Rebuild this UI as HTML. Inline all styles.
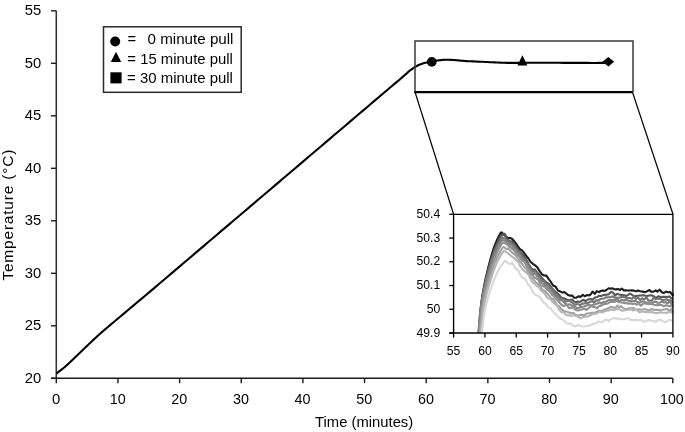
<!DOCTYPE html>
<html><head><meta charset="utf-8"><style>
html,body{margin:0;padding:0;background:#fff;overflow:hidden;}
svg{display:block;will-change:transform;}
.t{font-family:"Liberation Sans",sans-serif;font-size:14.8px;fill:#000;}
.s{font-family:"Liberation Sans",sans-serif;font-size:12.2px;fill:#000;}
</style></head><body>
<svg width="685" height="432" viewBox="0 0 685 432">
<rect width="685" height="432" fill="#fff"/>
<line x1="56.3" y1="10.8" x2="56.3" y2="378.3" stroke="#303030" stroke-width="1.55"/>
<line x1="51" y1="378.3" x2="672.8" y2="378.3" stroke="#1a1a1a" stroke-width="1.4"/>
<line x1="51" y1="378.3" x2="56.3" y2="378.3" stroke="#1a1a1a" stroke-width="1.4"/>
<text x="41.3" y="382.5" text-anchor="end" class="t">20</text>
<line x1="51" y1="325.8" x2="56.3" y2="325.8" stroke="#1a1a1a" stroke-width="1.4"/>
<text x="41.3" y="330" text-anchor="end" class="t">25</text>
<line x1="51" y1="273.3" x2="56.3" y2="273.3" stroke="#1a1a1a" stroke-width="1.4"/>
<text x="41.3" y="277.5" text-anchor="end" class="t">30</text>
<line x1="51" y1="220.8" x2="56.3" y2="220.8" stroke="#1a1a1a" stroke-width="1.4"/>
<text x="41.3" y="225" text-anchor="end" class="t">35</text>
<line x1="51" y1="168.3" x2="56.3" y2="168.3" stroke="#1a1a1a" stroke-width="1.4"/>
<text x="41.3" y="172.5" text-anchor="end" class="t">40</text>
<line x1="51" y1="115.8" x2="56.3" y2="115.8" stroke="#1a1a1a" stroke-width="1.4"/>
<text x="41.3" y="120" text-anchor="end" class="t">45</text>
<line x1="51" y1="63.3" x2="56.3" y2="63.3" stroke="#1a1a1a" stroke-width="1.4"/>
<text x="41.3" y="67.5" text-anchor="end" class="t">50</text>
<line x1="51" y1="10.8" x2="56.3" y2="10.8" stroke="#1a1a1a" stroke-width="1.4"/>
<text x="41.3" y="15" text-anchor="end" class="t">55</text>
<line x1="56.3" y1="378.3" x2="56.3" y2="383.2" stroke="#1a1a1a" stroke-width="1.4"/>
<text x="56" y="403.5" text-anchor="middle" class="t">0</text>
<line x1="117.95" y1="378.3" x2="117.95" y2="383.2" stroke="#1a1a1a" stroke-width="1.4"/>
<text x="117.65" y="403.5" text-anchor="middle" class="t" textLength="16" lengthAdjust="spacingAndGlyphs">10</text>
<line x1="179.6" y1="378.3" x2="179.6" y2="383.2" stroke="#1a1a1a" stroke-width="1.4"/>
<text x="179.3" y="403.5" text-anchor="middle" class="t" textLength="16" lengthAdjust="spacingAndGlyphs">20</text>
<line x1="241.25" y1="378.3" x2="241.25" y2="383.2" stroke="#1a1a1a" stroke-width="1.4"/>
<text x="240.95" y="403.5" text-anchor="middle" class="t" textLength="16" lengthAdjust="spacingAndGlyphs">30</text>
<line x1="302.9" y1="378.3" x2="302.9" y2="383.2" stroke="#1a1a1a" stroke-width="1.4"/>
<text x="302.6" y="403.5" text-anchor="middle" class="t" textLength="16" lengthAdjust="spacingAndGlyphs">40</text>
<line x1="364.55" y1="378.3" x2="364.55" y2="383.2" stroke="#1a1a1a" stroke-width="1.4"/>
<text x="364.25" y="403.5" text-anchor="middle" class="t" textLength="16" lengthAdjust="spacingAndGlyphs">50</text>
<line x1="426.2" y1="378.3" x2="426.2" y2="383.2" stroke="#1a1a1a" stroke-width="1.4"/>
<text x="425.9" y="403.5" text-anchor="middle" class="t" textLength="16" lengthAdjust="spacingAndGlyphs">60</text>
<line x1="487.85" y1="378.3" x2="487.85" y2="383.2" stroke="#1a1a1a" stroke-width="1.4"/>
<text x="487.55" y="403.5" text-anchor="middle" class="t" textLength="16" lengthAdjust="spacingAndGlyphs">70</text>
<line x1="549.5" y1="378.3" x2="549.5" y2="383.2" stroke="#1a1a1a" stroke-width="1.4"/>
<text x="549.2" y="403.5" text-anchor="middle" class="t" textLength="16" lengthAdjust="spacingAndGlyphs">80</text>
<line x1="611.15" y1="378.3" x2="611.15" y2="383.2" stroke="#1a1a1a" stroke-width="1.4"/>
<text x="610.85" y="403.5" text-anchor="middle" class="t" textLength="16" lengthAdjust="spacingAndGlyphs">90</text>
<line x1="672.8" y1="378.3" x2="672.8" y2="383.2" stroke="#1a1a1a" stroke-width="1.4"/>
<text x="671.9" y="403.5" text-anchor="middle" class="t" textLength="23.6" lengthAdjust="spacingAndGlyphs">100</text>
<text x="315.1" y="426.8" textLength="98.1" lengthAdjust="spacingAndGlyphs" class="t">Time (minutes)</text>
<text transform="translate(13.4 280.6) rotate(-90)" x="0" y="0" textLength="131" lengthAdjust="spacing" class="t" style="font-size:15.5px">Temperature (°C)</text>
<rect x="103.5" y="26.8" width="137.7" height="65.5" fill="#fff" stroke="#2a2a2a" stroke-width="1.5"/>
<circle cx="115.2" cy="41.5" r="5" fill="#000"/>
<path d="M116 51.8 L121.2 62 L110.8 62 Z" fill="#000"/>
<rect x="110.4" y="72.3" width="11.2" height="11.1" fill="#000"/>
<text x="127.5" y="43.9" class="t">=</text><text x="147.5" y="43.9" textLength="86" lengthAdjust="spacingAndGlyphs" class="t">0 minute pull</text>
<text x="127.3" y="63.6" textLength="105.6" lengthAdjust="spacingAndGlyphs" class="t">= 15 minute pull</text>
<text x="127.1" y="83.1" textLength="105.8" lengthAdjust="spacingAndGlyphs" class="t">= 30 minute pull</text>
<path d="M56.5 373.5 L56.72 373.33 L57.02 373.1 L57.38 372.82 L57.76 372.52 L58.14 372.22 L58.5 371.94 L58.83 371.68 L59.17 371.42 L59.5 371.16 L59.83 370.9 L60.17 370.64 L60.5 370.38 L60.83 370.12 L61.17 369.86 L61.5 369.6 L61.83 369.34 L62.17 369.08 L62.5 368.82 L62.83 368.55 L63.17 368.28 L63.5 368.01 L63.83 367.74 L64.17 367.47 L64.5 367.19 L64.83 366.91 L65.17 366.63 L65.5 366.34 L65.83 366.05 L66.17 365.76 L66.5 365.47 L66.83 365.18 L67.17 364.88 L67.5 364.58 L67.83 364.28 L68.17 363.97 L68.5 363.66 L68.83 363.35 L69.17 363.04 L69.5 362.72 L69.83 362.41 L70.17 362.09 L70.5 361.77 L70.83 361.45 L71.17 361.13 L71.5 360.81 L71.83 360.49 L72.17 360.17 L72.5 359.85 L72.83 359.53 L73.17 359.21 L73.5 358.89 L73.83 358.57 L74.17 358.25 L74.5 357.93 L74.83 357.61 L75.17 357.29 L75.5 356.97 L75.83 356.65 L76.17 356.33 L76.5 356.01 L76.83 355.69 L77.17 355.37 L77.5 355.05 L77.83 354.73 L78.17 354.41 L78.5 354.09 L78.83 353.77 L79.17 353.45 L79.5 353.13 L79.83 352.81 L80.17 352.49 L80.5 352.17 L80.83 351.85 L81.17 351.53 L81.5 351.21 L81.83 350.89 L82.17 350.57 L82.5 350.25 L82.83 349.93 L83.17 349.61 L83.5 349.29 L83.83 348.97 L84.17 348.65 L84.5 348.33 L84.83 348.01 L85.17 347.69 L85.5 347.37 L85.83 347.05 L86.17 346.73 L86.5 346.41 L86.83 346.09 L87.17 345.77 L87.5 345.45 L87.83 345.13 L88.17 344.81 L88.5 344.49 L88.83 344.17 L89.17 343.85 L89.5 343.53 L89.83 343.21 L90.17 342.89 L90.5 342.58 L90.83 342.26 L91.17 341.94 L91.5 341.63 L91.83 341.31 L92.17 341 L92.5 340.69 L92.83 340.37 L93.17 340.06 L93.5 339.75 L93.83 339.44 L94.17 339.13 L94.5 338.82 L94.83 338.51 L95.17 338.21 L95.5 337.9 L95.83 337.59 L96.17 337.29 L96.5 336.98 L96.83 336.68 L97.17 336.37 L97.5 336.07 L97.83 335.77 L98.17 335.47 L98.5 335.17 L98.83 334.87 L99.17 334.57 L99.5 334.27 L99.83 333.97 L100.17 333.67 L100.5 333.37 L100.83 333.08 L101.17 332.78 L101.5 332.49 L101.83 332.19 L102.17 331.9 L102.5 331.61 L102.83 331.32 L103.17 331.02 L103.5 330.73 L103.83 330.44 L104.17 330.15 L104.5 329.87 L104.83 329.58 L105.17 329.29 L105.5 329 L105.83 328.72 L106.17 328.43 L106.5 328.15 L106.67 328 L106.63 328.03 L106.59 328.06 L106.76 327.91 L107.33 327.43 L108.5 326.45 L110.31 324.92 L112.61 322.99 L115.31 320.72 L118.33 318.19 L121.59 315.45 L125 312.59 L128.67 309.51 L132.7 306.13 L136.97 302.56 L141.35 298.89 L145.73 295.21 L150 291.62 L154.17 288.09 L158.33 284.55 L162.5 281.01 L166.67 277.46 L170.83 273.91 L175 270.37 L179.17 266.83 L183.33 263.29 L187.5 259.75 L191.67 256.21 L195.83 252.67 L200 249.13 L204.17 245.58 L208.33 242.04 L212.5 238.5 L216.67 234.96 L220.83 231.42 L225 227.88 L229.17 224.34 L233.33 220.8 L237.5 217.26 L241.67 213.72 L245.83 210.18 L250 206.64 L254.17 203.09 L258.33 199.55 L262.5 196.01 L266.67 192.47 L270.83 188.93 L275 185.39 L279.17 181.85 L283.33 178.31 L287.5 174.77 L291.67 171.23 L295.83 167.69 L300 164.15 L304.17 160.6 L308.33 157.06 L312.5 153.52 L316.67 149.98 L320.83 146.44 L325 142.9 L329.17 139.36 L333.33 135.82 L337.5 132.28 L341.67 128.74 L345.83 125.2 L350 121.66 L354.26 118.04 L358.63 114.32 L363 110.61 L367.26 106.99 L371.3 103.56 L375 100.41 L378.41 97.52 L381.61 94.79 L384.59 92.26 L387.33 89.93 L389.8 87.82 L392 85.96 L393.84 84.41 L395.34 83.16 L396.57 82.14 L397.63 81.25 L398.61 80.44 L399.6 79.6 L400.55 78.79 L401.39 78.07 L402.14 77.41 L402.85 76.78 L403.56 76.16 L404.3 75.5 L405.07 74.81 L405.84 74.11 L406.61 73.41 L407.37 72.71 L408.13 72.04 L408.9 71.4 L409.67 70.78 L410.43 70.19 L411.2 69.61 L411.97 69.06 L412.73 68.52 L413.5 68 L414.27 67.5 L415.03 67.01 L415.79 66.55 L416.56 66.11 L417.33 65.69 L418.1 65.3 L418.88 64.94 L419.66 64.61 L420.45 64.31 L421.24 64.02 L422.02 63.75 L422.8 63.5 L423.57 63.26 L424.33 63.04 L425.09 62.84 L425.86 62.66 L426.62 62.48 L427.4 62.3 L428.18 62.13 L428.97 61.98 L429.77 61.83 L430.57 61.69 L431.38 61.55 L432.2 61.4 L433.01 61.25 L433.8 61.09 L434.59 60.94 L435.43 60.79 L436.32 60.64 L437.3 60.5 L438.39 60.36 L439.57 60.22 L440.81 60.09 L442.09 59.97 L443.36 59.87 L444.6 59.8 L445.82 59.76 L447.03 59.76 L448.25 59.77 L449.47 59.8 L450.68 59.85 L451.9 59.9 L453.12 59.97 L454.33 60.06 L455.55 60.17 L456.77 60.28 L457.98 60.39 L459.2 60.5 L460.34 60.6 L461.4 60.7 L462.46 60.8 L463.61 60.9 L464.92 61 L466.5 61.1 L468.38 61.2 L470.5 61.3 L472.79 61.39 L475.19 61.49 L477.61 61.59 L480 61.7 L482.42 61.81 L484.94 61.94 L487.49 62.06 L490 62.19 L492.4 62.3 L494.6 62.4 L496.56 62.49 L498.34 62.57 L499.99 62.64 L501.61 62.7 L503.25 62.75 L505 62.8 L506.83 62.84 L508.68 62.86 L510.56 62.88 L512.48 62.89 L514.45 62.9 L516.5 62.9 L518.5 62.89 L520.43 62.88 L522.41 62.86 L524.57 62.83 L527.06 62.81 L530 62.8 L533.5 62.79 L537.48 62.79 L541.78 62.79 L546.24 62.79 L550.7 62.79 L555 62.8 L559.2 62.81 L563.44 62.83 L567.69 62.85 L571.89 62.87 L576.01 62.89 L580 62.9 L584.02 62.91 L588.14 62.92 L592.18 62.93 L595.95 62.93 L599.28 62.92 L602 62.9 L604.02 62.85 L605.47 62.78 L606.48 62.7 L607.18 62.62 L607.71 62.55 L608.2 62.5" fill="none" stroke="#000" stroke-width="2.1" stroke-linejoin="round"/>
<path d="M415 92 L415 41 L633 41 L633 92" fill="none" stroke="#3a3a3a" stroke-width="1.5"/>
<line x1="414.3" y1="92.1" x2="632.8" y2="92.1" stroke="#000" stroke-width="2.1"/>
<circle cx="431.75" cy="61.85" r="4.9" fill="#000"/>
<path d="M522.4 55.3 L527.4 65.6 L517.4 65.6 Z" fill="#000"/>
<path d="M608.3 57 L614.2 61.7 L608.3 66.4 L602.4 61.7 Z" fill="#000"/>
<line x1="415" y1="92" x2="453.6" y2="214.3" stroke="#000" stroke-width="1.2"/>
<line x1="632.5" y1="92.3" x2="673" y2="214.3" stroke="#000" stroke-width="1.2"/>
<rect x="453.6" y="214.3" width="219.3" height="118.7" fill="#fff"/>
<path d="M479.2 333 L479.46 328.6 L479.82 322.28 L480.28 315.31 L480.8 309 L481.39 303.64 L482.04 298.57 L482.78 293.61 L483.63 288.6 L484.62 283.46 L485.72 278.29 L486.88 273.2 L488.07 268.3 L489.29 263.48 L490.57 258.73 L491.83 254.29 L493.02 250.4 L494.1 247.19 L495.12 244.51 L496.09 242.17 L497.03 240 L497.98 237.9 L498.92 235.99 L499.79 234.38 L500.5 233.2 L500.97 232.58 L501.26 232.41 L501.5 232.49 L501.8 232.6 L504.06 234.72 L505.97 236.5 L507.82 237.93 L510.13 238.1 L511.91 238.7 L514.43 241.52 L516.11 243.56 L518.2 247.02 L520.23 249.4 L522.06 250.46 L523.96 252.63 L526.4 256.28 L528.3 258.24 L530.47 261.75 L532.87 263.8 L535.14 265.38 L537.54 267.49 L539.65 271.22 L541.82 274.13 L543.81 275.35 L546.37 275.59 L548.71 279.06 L550.7 281.69 L552.97 285.41 L555.43 286.42 L557.93 290.52 L559.98 291.33 L562.55 292.59 L564.29 291.98 L565.89 293.49 L567.64 294.67 L570.14 295.77 L572.08 295.41 L573.96 297.59 L576.42 297.7 L578.66 296.25 L580.42 296.92 L582.93 294.86 L584.71 296.27 L587.19 295.06 L588.81 295.53 L590.55 294.53 L592.55 291.59 L594.75 293.78 L596.8 291.11 L598.98 292.18 L600.77 291 L602.6 290.41 L604.24 291.03 L606.06 290.21 L608.63 288.23 L610.48 288.76 L612.19 288.22 L614.23 289.22 L615.88 289.38 L617.95 289.08 L620.06 289.94 L621.73 288.51 L623.85 290.36 L625.77 290.21 L627.41 290.45 L630 290.44 L631.71 290.36 L633.92 290.62 L636.03 291.38 L637.95 290.45 L640.33 291.27 L642.78 291.65 L645.33 292.17 L647.25 291.14 L649.45 289.97 L651.23 291.74 L653.59 291.62 L655.61 290.37 L657.32 291.63 L659.64 289.72 L662.2 292.43 L663.96 293 L665.98 291.59 L667.94 292.22 L670.34 292.12 L672.72 295.47 L673 293.52" fill="none" stroke="#1c1c1c" stroke-width="2.1" stroke-linejoin="round"/>
<path d="M478.6 333 L478.91 328.72 L479.35 322.55 L479.88 315.77 L480.47 309.62 L481.12 304.4 L481.83 299.46 L482.63 294.63 L483.54 289.75 L484.58 284.74 L485.74 279.71 L486.96 274.75 L488.2 269.98 L489.48 265.28 L490.81 260.65 L492.13 256.33 L493.36 252.54 L494.47 249.41 L495.52 246.8 L496.52 244.52 L497.49 242.41 L498.46 240.36 L499.42 238.5 L500.29 236.93 L501 235.78 L501.47 235.18 L501.76 235.02 L502 235.09 L502.3 235.2 L504.72 233.77 L507.13 238.87 L509.18 241.19 L511.47 241.34 L513.2 242.38 L515.29 245.91 L517.07 248.3 L518.71 250.35 L521.06 252.87 L523.21 255.01 L524.96 257.26 L526.77 260.42 L528.58 264.02 L530.45 267.13 L532.81 269.62 L534.96 269.67 L536.8 271.84 L538.79 274.32 L540.53 276.06 L542.86 279.09 L545 281.15 L547.1 282.96 L548.91 283.98 L551.26 287.4 L553.65 290.05 L555.32 291.7 L557.19 293.35 L559.13 295.05 L560.83 297.01 L562.47 298.42 L564.24 298.3 L565.85 299.27 L568.15 300.13 L570.08 300.04 L572.21 299.54 L573.85 301.38 L576.06 302.3 L577.71 301.57 L579.55 302.06 L581.68 300.73 L583.61 299.8 L585.5 301.03 L587.95 299.46 L590.41 299.02 L592.85 299.52 L595.42 297.3 L597.1 297.28 L599.15 295.7 L600.77 295.97 L602.46 295.4 L604.72 294.83 L606.68 294.66 L608.5 294.43 L611.08 291.78 L613.4 292.98 L615.05 295.37 L617.06 293.83 L619 294.5 L621.37 294.99 L623.48 294.96 L626.03 296.01 L627.81 295.11 L630.05 293.49 L632.38 295.13 L634.03 295.95 L636.12 296.05 L637.82 295.68 L640.18 295.5 L642.7 295.31 L644.47 295.36 L646.42 296.15 L648.06 295.68 L650.5 295.29 L652.59 295.59 L654.5 296.94 L656.13 297.85 L658.36 296.3 L660.41 296.98 L662.42 296.85 L664.88 296.88 L667.41 296.99 L669.53 296.39 L671.72 298.47 L673 299.03" fill="none" stroke="#585858" stroke-width="2.1" stroke-linejoin="round"/>
<path d="M478.4 333 L478.74 328.82 L479.21 322.81 L479.79 316.19 L480.42 310.2 L481.1 305.11 L481.84 300.28 L482.67 295.57 L483.61 290.81 L484.69 285.93 L485.88 281.02 L487.13 276.18 L488.4 271.52 L489.71 266.94 L491.07 262.43 L492.41 258.21 L493.67 254.51 L494.81 251.46 L495.87 248.91 L496.88 246.69 L497.86 244.63 L498.85 242.64 L499.82 240.82 L500.69 239.29 L501.4 238.17 L501.87 237.58 L502.16 237.42 L502.4 237.5 L502.7 237.6 L505.25 238.74 L507.62 240.57 L509.97 242.72 L512.23 243.84 L514.22 246.23 L516.7 249.69 L518.91 252.32 L521.33 254.98 L523.93 258.27 L525.64 260.95 L528.22 263.72 L530.55 267.81 L532.92 271.47 L535.34 271.85 L537.73 274.71 L540.03 278.95 L541.89 280.9 L543.61 281.01 L546.17 284.49 L547.79 285.89 L549.71 287.82 L551.76 288.72 L553.43 291.02 L555.39 294.44 L557.91 296.78 L559.59 298.77 L561.36 298.33 L563.3 300.6 L565.14 301.42 L567.1 301.13 L569.32 300.43 L571.78 302.28 L573.91 303.93 L575.52 304.74 L577.7 303.87 L580.15 305.22 L582.1 303.53 L583.89 303.61 L585.72 303.12 L587.41 302.96 L589.93 302.05 L592.09 301.09 L594 302.56 L596.04 300.21 L597.67 300.62 L599.57 299.69 L601.24 298.73 L603.72 298.54 L605.77 297.34 L608.12 297.2 L610.66 297.01 L612.88 296.38 L614.94 297.59 L617.1 297.89 L618.81 297.8 L621.38 296.93 L623.41 296.92 L625.29 297.52 L627.55 298.04 L630.13 298.17 L632.07 298.77 L633.87 296.27 L635.93 299.06 L637.85 297.44 L640.26 299.99 L642.29 298.42 L644.32 299.31 L646.51 297.16 L648.12 300.14 L650.1 300.67 L651.89 300.8 L653.68 297.61 L655.51 299.07 L657.67 298.79 L660.18 298.52 L662.24 300.08 L664.02 299.89 L666.46 299.23 L668.39 300.3 L670.56 300.33 L672.62 302.3 L673 303.19" fill="none" stroke="#747474" stroke-width="2.1" stroke-linejoin="round"/>
<path d="M478.6 333 L478.95 328.93 L479.43 323.08 L480.02 316.63 L480.67 310.79 L481.36 305.84 L482.12 301.14 L482.96 296.55 L483.9 291.92 L484.99 287.16 L486.19 282.38 L487.46 277.67 L488.73 273.13 L490.05 268.67 L491.42 264.28 L492.78 260.17 L494.04 256.57 L495.18 253.6 L496.25 251.12 L497.27 248.96 L498.25 246.95 L499.25 245.01 L500.22 243.23 L501.09 241.75 L501.8 240.66 L502.27 240.08 L502.56 239.93 L502.8 240 L503.1 240.1 L504.93 240.87 L507.24 242.77 L509.74 244.38 L511.99 245.66 L514.17 248.72 L516.1 249.73 L518.16 252.83 L520.02 256.26 L522.22 259.16 L524.65 261.19 L526.6 264.43 L528.4 266.81 L530.8 270.48 L533.03 274.91 L535.16 272.5 L536.9 276.4 L538.66 277.13 L540.5 281.75 L542.73 283.68 L544.87 285.18 L547.16 286.86 L549.65 290.08 L551.98 291.45 L553.61 294.23 L555.66 296.18 L557.84 297.98 L559.75 300.17 L562.31 300.32 L564.12 302.51 L566.05 304.15 L567.88 304.77 L570.28 304.3 L572.11 306.09 L573.95 305.04 L576.11 307.74 L578.26 308.09 L580.08 307.21 L582.45 306.79 L584.18 306.5 L586.56 305.53 L588.59 304.38 L591.07 305.59 L593.47 304.68 L595.75 303.97 L597.47 303.53 L599.56 302.39 L601.23 303.54 L603.15 301.99 L605.72 301.98 L608.28 300.18 L610.04 299.81 L611.79 300.35 L613.61 299.65 L615.45 300.45 L617.63 299.09 L619.47 301.62 L621.78 299.67 L623.98 300.75 L625.87 299.5 L628.46 300.87 L630.67 301.17 L632.69 301.33 L635.24 300.7 L637.82 302.3 L640.35 302.42 L642.38 301.35 L644.25 301.77 L646.67 302.84 L649.08 302.63 L651.07 303.71 L653.21 302.33 L654.94 301.47 L657.49 302.69 L659.88 302.74 L661.97 301.29 L663.9 302.55 L665.71 302.21 L667.34 303.31 L669.74 301.44 L671.79 304.96 L673 305.72" fill="none" stroke="#838383" stroke-width="2.1" stroke-linejoin="round"/>
<path d="M479.3 333 L479.63 329.04 L480.1 323.34 L480.67 317.07 L481.3 311.39 L481.97 306.57 L482.71 302 L483.53 297.53 L484.47 293.02 L485.53 288.4 L486.72 283.74 L487.97 279.16 L489.23 274.74 L490.54 270.4 L491.89 266.13 L493.23 262.13 L494.48 258.63 L495.62 255.74 L496.68 253.32 L497.69 251.22 L498.67 249.26 L499.65 247.37 L500.62 245.65 L501.49 244.2 L502.2 243.14 L502.67 242.58 L502.96 242.43 L503.2 242.5 L503.5 242.6 L505.83 243.96 L507.51 244.96 L510 246.81 L511.72 248.57 L513.35 249.67 L515.05 251.66 L517.06 254.39 L519.39 256.39 L521.81 260.87 L523.78 261.28 L525.86 264.34 L527.74 268.17 L530.23 273.74 L532.54 275.06 L534.56 277.65 L536.26 278.38 L538.56 280.14 L540.65 285.44 L543.02 286.13 L544.91 287.14 L547.33 289.83 L549.68 291.38 L552.15 294.92 L554.32 296.78 L556.49 299.41 L558.47 301.43 L560.75 304.15 L563.04 305.93 L564.94 305.66 L566.73 304.67 L569.2 308.31 L571.48 307.87 L573.15 307.48 L575.37 309.71 L577.84 310.41 L580.17 309.96 L582.29 309.23 L584.48 308.82 L586.22 309.88 L588.71 308.05 L591.25 305.72 L592.87 307.02 L595.14 307.01 L597 308.39 L599.16 305.8 L600.81 305.91 L603.19 304.34 L605.6 303.87 L607.96 303.47 L610.32 301.82 L612.59 301.86 L614.7 301.93 L616.41 300.63 L618.62 302.27 L620.68 302.19 L622.34 302.76 L624.46 303.08 L626.66 302.87 L628.46 303.79 L630.71 303.22 L632.59 304.25 L634.51 303.39 L636.51 304.74 L638.78 303.64 L641.04 305.74 L643.46 303.21 L645.81 303.75 L648.39 303.99 L650.95 304.02 L653.49 304.53 L655.34 305.19 L657.6 305.11 L659.74 305.03 L661.36 304.93 L663.78 306.27 L666.05 305.26 L667.86 305.69 L669.68 306.12 L672.13 306.04 L673 307.44" fill="none" stroke="#909090" stroke-width="2.1" stroke-linejoin="round"/>
<path d="M480.2 333 L480.51 329.24 L480.96 323.82 L481.5 317.86 L482.1 312.47 L482.75 307.88 L483.47 303.54 L484.27 299.3 L485.18 295.01 L486.23 290.62 L487.39 286.19 L488.62 281.84 L489.87 277.64 L491.15 273.52 L492.49 269.46 L493.81 265.66 L495.04 262.33 L496.16 259.58 L497.21 257.29 L498.22 255.29 L499.18 253.43 L500.16 251.64 L501.12 250 L501.99 248.62 L502.7 247.61 L503.17 247.08 L503.46 246.94 L503.7 247.01 L504 247.1 L506.31 249.24 L508.3 248.04 L510.52 251.02 L513 253.28 L514.72 254.25 L517.01 257.1 L518.84 259.92 L520.58 262.2 L522.43 264.42 L524.36 266.91 L526.39 268.97 L528.9 273.65 L531.13 277.59 L533.29 279.21 L535.71 282.32 L537.78 284.08 L540.25 286.68 L542.24 289.43 L544.47 290.8 L547.04 293.36 L549.58 296.17 L551.26 298.67 L553.11 298.86 L555.65 302.93 L557.47 305.59 L559.22 306.53 L561.2 308.84 L562.92 310.28 L565.25 311.5 L567.09 311.79 L568.9 312.56 L571.3 313.14 L573.55 312.99 L575.24 314.64 L577.68 315.65 L580.2 314.88 L582.01 314.87 L584.32 315.31 L586.55 313.58 L588.99 313.33 L591.46 312.91 L594.01 312.61 L596.09 312.18 L598.64 310.89 L600.7 310.86 L602.44 310.95 L604.59 309.62 L606.68 309.07 L609.03 307.98 L610.66 306.89 L612.73 307.36 L615.24 308.05 L617.39 305.37 L619.1 307.65 L620.85 305.97 L623.43 308.21 L625.36 309.42 L627.32 308.78 L629.13 308.4 L631.42 308.33 L633.11 307.94 L635.7 309.7 L638.13 309.3 L640.26 309.57 L642.71 309.5 L644.75 309.11 L647.32 310.01 L649.25 310.27 L651.53 309.13 L653.97 309.83 L656.43 309.82 L658.93 310.08 L660.73 310.21 L662.55 309.75 L664.84 309.24 L667.41 309.08 L669.26 311.06 L671.03 308.82 L673 312.82" fill="none" stroke="#a2a2a2" stroke-width="2.1" stroke-linejoin="round"/>
<path d="M481.1 333 L481.4 329.41 L481.81 324.25 L482.32 318.57 L482.9 313.42 L483.53 309.05 L484.22 304.91 L485.01 300.87 L485.9 296.78 L486.93 292.59 L488.07 288.37 L489.28 284.22 L490.5 280.22 L491.76 276.29 L493.08 272.42 L494.38 268.79 L495.6 265.62 L496.71 263 L497.75 260.81 L498.74 258.91 L499.7 257.14 L500.67 255.42 L501.62 253.86 L502.49 252.55 L503.2 251.59 L503.67 251.08 L503.96 250.95 L504.2 251.01 L504.5 251.1 L507.02 252.54 L509.29 254.37 L511.58 256.31 L514.15 258.12 L516.52 260.33 L518.59 262.66 L520.4 266.44 L522.31 268.94 L524.57 271.33 L526.56 272.5 L528.83 275.35 L530.97 279.72 L532.58 282.36 L534.33 283.61 L536.62 285.94 L538.58 286.89 L541.05 290.35 L543.52 292.44 L545.16 294.32 L547.7 298.23 L550.01 298.66 L552.42 301.81 L554.81 303.99 L557.3 306.07 L559.86 310.52 L561.8 312.53 L563.75 312.25 L566.17 315.2 L567.98 315.27 L570.56 315.6 L572.81 315.55 L574.42 315.56 L576.59 316.07 L578.43 317.18 L580.57 318.32 L583.1 316.99 L585.1 316.66 L586.77 316.6 L588.74 316.19 L591.01 314.94 L593.27 313.88 L595 313.7 L597.33 313.41 L599.37 311.71 L601.96 312.54 L604 311.64 L606.55 310.68 L608.61 310.47 L610.67 309.59 L612.88 310.01 L614.54 310.15 L616.41 308.82 L618.81 308.88 L621.14 310.36 L623 310.71 L624.82 310.19 L626.61 309.99 L628.94 309.68 L630.99 309.17 L633.11 310.51 L634.93 309.64 L637.47 310.45 L639.65 312.5 L641.37 311.54 L643.69 311.68 L645.89 312.32 L647.55 311.79 L649.68 312.44 L652 312.02 L654.16 312.83 L656.52 313.14 L658.45 312.67 L660.52 312.3 L662.27 312.55 L664.75 312.79 L667.11 312.68 L669.24 311.75 L670.96 312.07 L673 313.34" fill="none" stroke="#b6b6b6" stroke-width="2.1" stroke-linejoin="round"/>
<path d="M482.2 333 L482.5 329.85 L482.91 325.31 L483.42 320.31 L484 315.79 L484.63 311.95 L485.32 308.31 L486.11 304.75 L487 301.16 L488.03 297.47 L489.17 293.77 L490.38 290.12 L491.6 286.6 L492.86 283.15 L494.18 279.74 L495.48 276.56 L496.7 273.76 L497.81 271.46 L498.85 269.54 L499.84 267.86 L500.8 266.31 L501.77 264.8 L502.72 263.43 L503.59 262.28 L504.3 261.43 L504.77 260.98 L505.06 260.87 L505.3 260.92 L505.6 261.04 L507.91 263.1 L509.94 264.18 L511.99 262.98 L514.54 266.96 L516.35 269.21 L518.13 270.32 L519.95 274.14 L522.1 277.44 L524.35 278.54 L525.95 280.15 L527.75 283.73 L530.26 286.84 L532.76 291.66 L534.92 294.57 L537.29 295.49 L539.18 296.32 L541.64 299.58 L543.72 302.8 L545.97 303.71 L548.42 307.73 L550.53 308.25 L552.72 311.29 L554.48 313.22 L556.79 315.18 L558.61 317.31 L560.83 319.05 L562.76 319.6 L564.55 321.49 L566.54 323.14 L568.54 323.7 L570.62 323.57 L572.92 325.55 L574.57 326.39 L576.42 326.28 L578.14 324.85 L580.14 326.05 L582.2 326.55 L584.38 326.43 L586.39 326.32 L588.59 326.04 L590.9 324.75 L593.5 323.69 L595.4 323.77 L597.99 321.41 L599.89 322.02 L602.12 322.3 L604.39 320.18 L606.72 319.64 L608.67 321.22 L610.41 319.15 L612.72 318.55 L614.49 317.91 L616.25 318.8 L618.4 318.36 L620.14 319.43 L622.32 319.19 L624.5 319.31 L626.5 318.24 L628.18 318.29 L629.8 319.58 L632.03 319.85 L634.2 320.12 L636.38 319.9 L638.93 320.12 L640.63 319.7 L643.08 321.45 L645.59 321.51 L647.93 320.06 L650.04 320.35 L651.76 320.86 L653.87 320.96 L655.52 322.12 L657.15 320.51 L659.71 319.89 L661.54 320.28 L663.15 321.42 L665.05 322.45 L667.54 320.8 L669.22 320.03 L671.59 320.64 L673 321.24" fill="none" stroke="#d8d8d8" stroke-width="2.1" stroke-linejoin="round"/>
<path d="M453.6 214.3 L672.9 214.3 L672.9 333" fill="none" stroke="#000" stroke-width="1.3"/>
<line x1="453.6" y1="214.3" x2="453.6" y2="333" stroke="#000" stroke-width="1.4"/>
<line x1="449.3" y1="333" x2="672.9" y2="333" stroke="#000" stroke-width="1.4"/>
<line x1="449.3" y1="333" x2="453.6" y2="333" stroke="#000" stroke-width="1.3"/>
<text x="440.2" y="336.5" text-anchor="end" class="s">49.9</text>
<line x1="449.3" y1="309.26" x2="453.6" y2="309.26" stroke="#000" stroke-width="1.3"/>
<text x="440.2" y="312.76" text-anchor="end" class="s">50</text>
<line x1="449.3" y1="285.52" x2="453.6" y2="285.52" stroke="#000" stroke-width="1.3"/>
<text x="440.2" y="289.02" text-anchor="end" class="s">50.1</text>
<line x1="449.3" y1="261.78" x2="453.6" y2="261.78" stroke="#000" stroke-width="1.3"/>
<text x="440.2" y="265.28" text-anchor="end" class="s">50.2</text>
<line x1="449.3" y1="238.04" x2="453.6" y2="238.04" stroke="#000" stroke-width="1.3"/>
<text x="440.2" y="241.54" text-anchor="end" class="s">50.3</text>
<line x1="449.3" y1="214.3" x2="453.6" y2="214.3" stroke="#000" stroke-width="1.3"/>
<text x="440.2" y="217.8" text-anchor="end" class="s">50.4</text>
<line x1="453.6" y1="333" x2="453.6" y2="337.6" stroke="#000" stroke-width="1.3"/>
<text x="453.6" y="354.8" text-anchor="middle" class="s">55</text>
<line x1="484.93" y1="333" x2="484.93" y2="337.6" stroke="#000" stroke-width="1.3"/>
<text x="484.93" y="354.8" text-anchor="middle" class="s">60</text>
<line x1="516.26" y1="333" x2="516.26" y2="337.6" stroke="#000" stroke-width="1.3"/>
<text x="516.26" y="354.8" text-anchor="middle" class="s">65</text>
<line x1="547.59" y1="333" x2="547.59" y2="337.6" stroke="#000" stroke-width="1.3"/>
<text x="547.59" y="354.8" text-anchor="middle" class="s">70</text>
<line x1="578.91" y1="333" x2="578.91" y2="337.6" stroke="#000" stroke-width="1.3"/>
<text x="578.91" y="354.8" text-anchor="middle" class="s">75</text>
<line x1="610.24" y1="333" x2="610.24" y2="337.6" stroke="#000" stroke-width="1.3"/>
<text x="610.24" y="354.8" text-anchor="middle" class="s">80</text>
<line x1="641.57" y1="333" x2="641.57" y2="337.6" stroke="#000" stroke-width="1.3"/>
<text x="641.57" y="354.8" text-anchor="middle" class="s">85</text>
<line x1="672.9" y1="333" x2="672.9" y2="337.6" stroke="#000" stroke-width="1.3"/>
<text x="672.9" y="354.8" text-anchor="middle" class="s">90</text>
</svg>
</body></html>
